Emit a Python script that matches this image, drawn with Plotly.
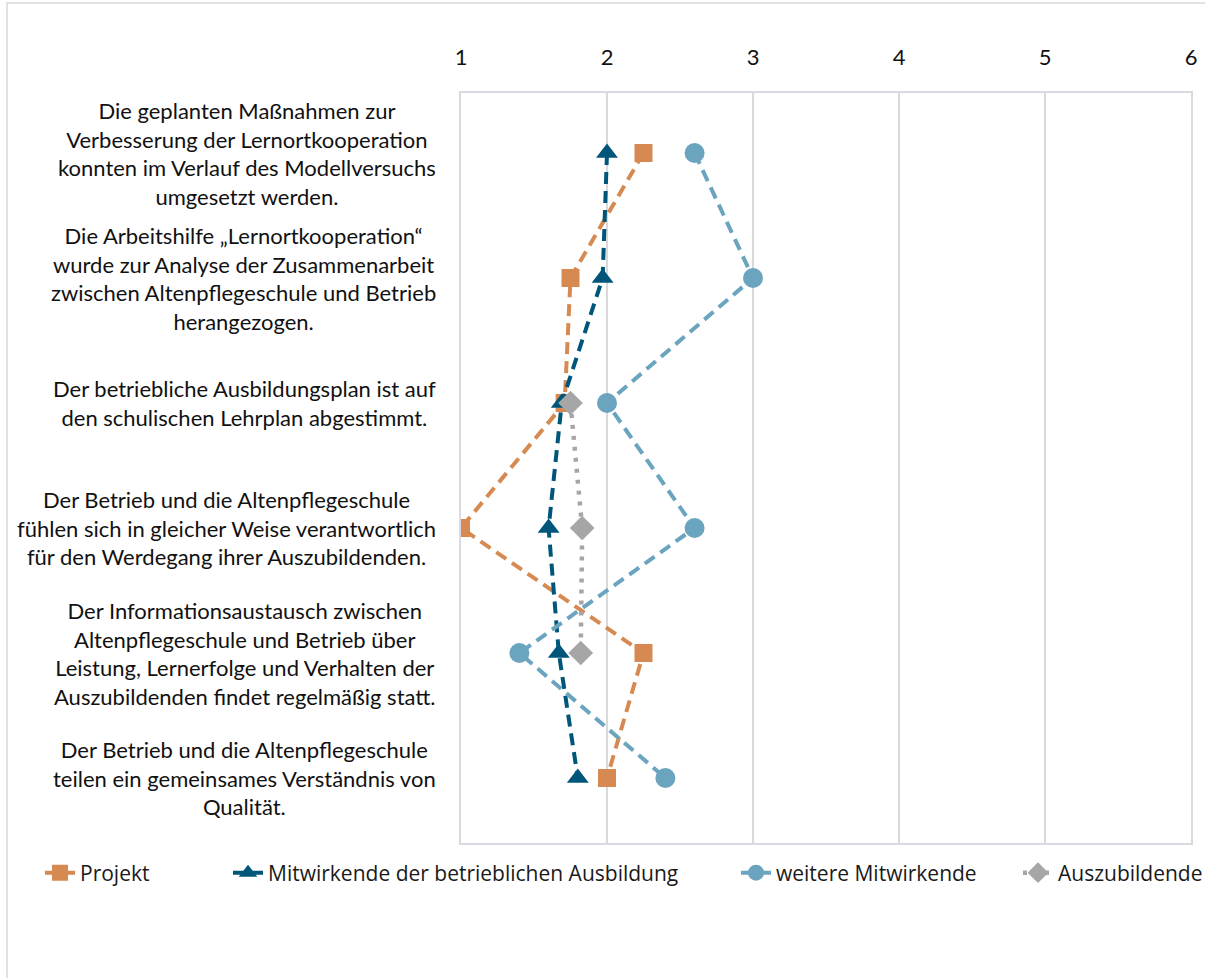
import plotly.graph_objects as go

# Statements (y categories), top to bottom
statements = [
    "Die geplanten Maßnahmen zur<br>Verbesserung der Lernortkooperation<br>konnten im Verlauf des Modellversuchs<br>umgesetzt werden.",
    "Die Arbeitshilfe „Lernortkooperation“<br>wurde zur Analyse der Zusammenarbeit<br>zwischen Altenpflegeschule und Betrieb<br>herangezogen.",
    "Der betriebliche Ausbildungsplan ist auf<br>den schulischen Lehrplan abgestimmt.",
    "Der Betrieb und die Altenpflegeschule<br>fühlen sich in gleicher Weise verantwortlich<br>für den Werdegang ihrer Auszubildenden.",
    "Der Informationsaustausch zwischen<br>Altenpflegeschule und Betrieb über<br>Leistung, Lernerfolge und Verhalten der<br>Auszubildenden findet regelmäßig statt.",
    "Der Betrieb und die Altenpflegeschule<br>teilen ein gemeinsames Verständnis von<br>Qualität.",
]

# Mean ratings per group (1 = best ... 6)
projekt = [2.25, 1.75, 1.71, 1.0, 2.25, 2.0]
mitwirkende_betrieb = [2.0, 1.97, 1.69, 1.6, 1.67, 1.8]
weitere_mitwirkende = [2.6, 3.0, 2.0, 2.6, 1.4, 2.4]
auszubildende = [None, None, 1.75, 1.83, 1.82, None]

series_names = [
    "Projekt",
    "Mitwirkende der betrieblichen Ausbildung",
    "weitere Mitwirkende",
    "Auszubildende",
]

x_ticks = [1, 2, 3, 4, 5, 6]
x_ticktext = ["1", "2", "3", "4", "5", "6"]

W, H = 1205, 978
L, R, T, B = 461, 14, 93, 135

rows = list(range(len(statements)))

fig = go.Figure()

styles = [
    dict(color="#D68A52", symbol="square", size=18, dash="12px,7px", width=4),
    dict(color="#00567A", symbol="triangle-up", size=19, dash="12px,7px", width=4),
    dict(color="#6AA4BF", symbol="circle", size=20, dash="12px,7px", width=4),
    dict(color="#A6A6A6", symbol="diamond", size=19, dash="4px,7px", width=4.5),
]
values = [projekt, mitwirkende_betrieb, weitere_mitwirkende, auszubildende]
legend_ids = ["legend", "legend2", "legend3", "legend4"]

for name, vals, st, lg in zip(series_names, values, styles, legend_ids):
    fig.add_trace(go.Scatter(
        x=vals, y=rows, name=name, mode="lines+markers",
        line=dict(color=st["color"], width=st["width"], dash=st["dash"]),
        marker=dict(color=st["color"], symbol=st["symbol"], size=st["size"]),
        connectgaps=False, legend=lg,
    ))

# statement labels to the left of the plot area
for i, text in enumerate(statements):
    fig.add_annotation(
        x=(438 - L) / (W - L - R), xref="paper", xanchor="right",
        y=i, yref="y", yanchor="middle",
        text=text, showarrow=False, align="center",
        font=dict(family="Lato", size=22, color="#111111"),
    )

# outer chart frame
fig.add_shape(
    type="rect", xref="paper", yref="paper",
    x0=(7 - L) / (W - L - R), x1=1.2,
    y0=-0.3, y1=(H - B - 3) / (H - T - B),
    line=dict(color="#D9D9D9", width=1.5), layer="below",
)

legend_common = dict(
    orientation="h", xref="container", yref="container",
    xanchor="left", yanchor="middle", y=(H - 873) / H,
    font=dict(family="Open Sans", size=21, color="#1a1a1a"),
    bgcolor="rgba(0,0,0,0)", borderwidth=0,
)
legend_text_x = [80, 268, 776, 1058]
legend_layout = {}
for lg, tx in zip(legend_ids, legend_text_x):
    legend_layout[lg] = dict(legend_common, x=(tx - 40) / W)

fig.update_layout(
    width=W, height=H,
    margin=dict(l=L, r=R, t=T, b=B, autoexpand=False),
    paper_bgcolor="white", plot_bgcolor="white",
    showlegend=True,
    xaxis=dict(
        range=[1, 6], side="top", tickvals=x_ticks, ticktext=x_ticktext,
        showgrid=True, gridcolor="#D9D9D9", gridwidth=1.5,
        showline=True, mirror=True, linecolor="#D9DAE0", linewidth=2,
        zeroline=False, ticks="", ticklabelstandoff=17,
        tickfont=dict(family="Lato", size=22, color="#111111"),
    ),
    yaxis=dict(
        range=[5.52, -0.48], showgrid=False, zeroline=False,
        showticklabels=False, showline=True, mirror=True,
        linecolor="#D9DAE0", linewidth=2, ticks="",
    ),
    **legend_layout,
)

fig.write_html("out.html")
